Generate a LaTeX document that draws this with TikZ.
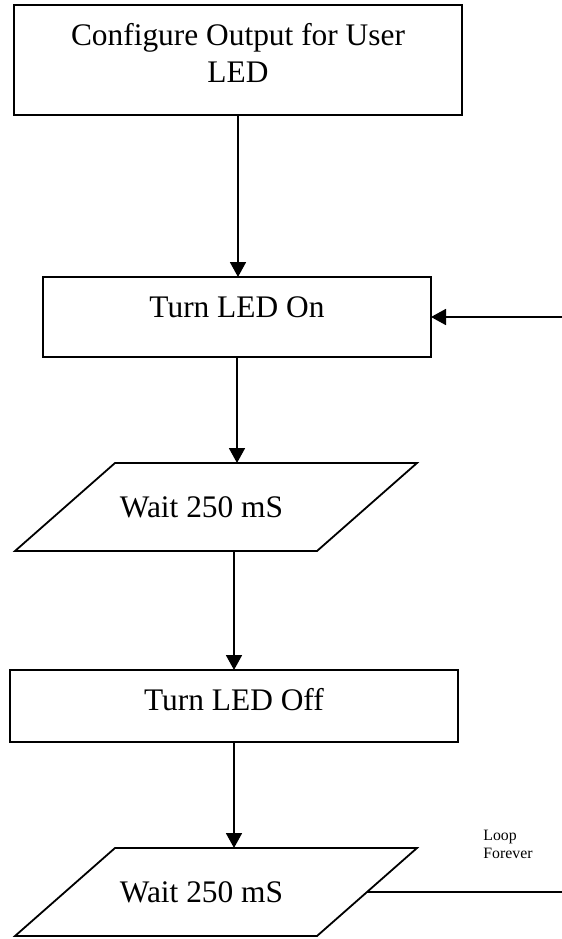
\documentclass[tikz,border=0pt]{standalone}
\usepackage{fontspec}
\setmainfont{Liberation Serif}
\usetikzlibrary{arrows.meta,positioning}

\begin{document}
\begin{tikzpicture}[
      node distance=53pt and 58pt,
      nd/.style={draw,line width=0.9pt,align=center,inner sep=2pt,outer sep=0pt,text depth=7pt,font=\fontsize{15.7}{18.5}\selectfont},
      wt/.style={inner sep=2pt,outer sep=0pt,minimum width=151pt,minimum height=44pt,font=\fontsize{15.7}{18.5}\selectfont},
      flow/.style={-{Triangle[length=7.5pt,width=8pt]},line width=0.9pt}
    ]
    \useasboundingbox (0,0) rectangle (281pt,-469.5pt);
    \node[nd,minimum width=224pt,minimum height=55pt] (cfg) at (119pt,-30pt) {Configure Output for User\\ LED};
    \node[nd,minimum width=194pt,minimum height=40pt,text depth=10pt,below=81pt of cfg,xshift=-0.5pt] (on) {Turn LED On};
    \node[wt,below=of on,xshift=-10.5pt] (wait1) {Wait 250 mS\hspace*{14.5pt}};
    \node[nd,minimum width=224pt,minimum height=36pt,below=59.5pt of wait1,xshift=9pt] (off) {Turn LED Off};
    \node[wt,below=of off,xshift=-9pt] (wait2) {Wait 250 mS\hspace*{14.5pt}};

    % parallelograms round the two waits
    \foreach \w in {wait1,wait2}
      \draw[line width=0.9pt] ([xshift=-25pt]\w.south west) -- ([xshift=-25pt]\w.south east) -- ([xshift=25pt]\w.north east) -- ([xshift=25pt]\w.north west) -- cycle;

    \draw[flow] (cfg.south) -- (cfg.south |- on.north);
    \draw[flow] (on.south) -- (on.south |- wait1.north);
    \draw[flow] (off.north |- wait1.south) -- (off.north);
    \draw[flow] (off.south) -- (off.south |- wait2.north);

    % loop back
    \coordinate[right=65.5pt of on.east] (back);
    \draw[flow] (back) -- (on.east);
    \draw[line width=0.9pt] (wait2.east) -- (wait2.east -| back);
    \node[align=left,inner sep=0pt,font=\fontsize{7.9}{9}\selectfont,above right=16.5pt and 58pt of wait2.east] (loop) {Loop\\ Forever};
  \end{tikzpicture}
\end{document}
